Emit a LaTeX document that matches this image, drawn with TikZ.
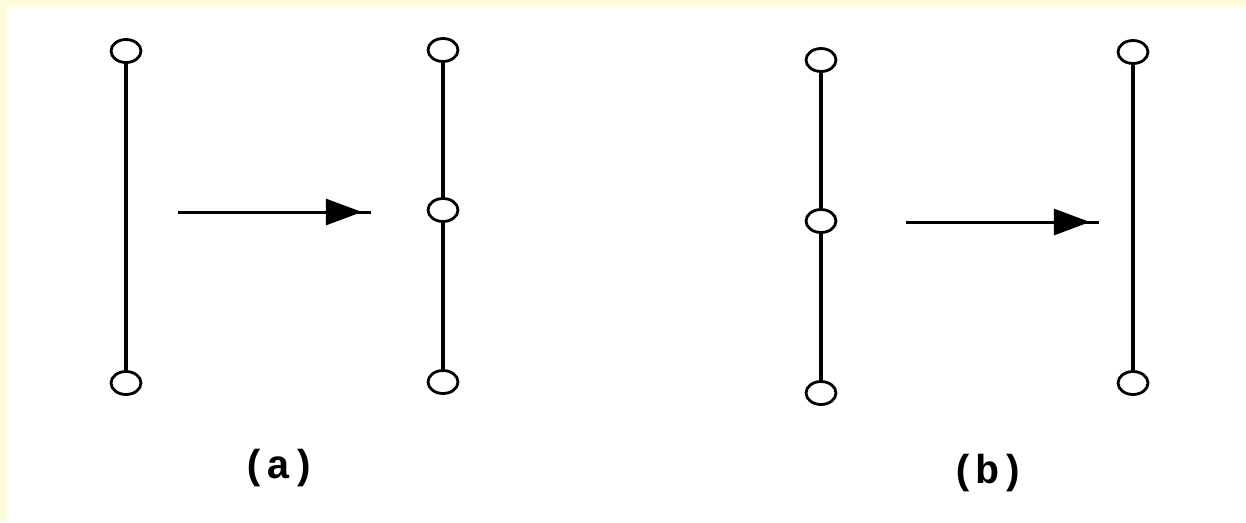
\documentclass[tikz,border=0pt]{standalone}
\usepackage{fontspec}
\newfontfamily\labelfont{Liberation Mono}
\usepackage{tikz}
\usetikzlibrary{arrows.meta}
\usetikzlibrary{shapes.geometric}
\usetikzlibrary{decorations.markings}
\definecolor{cream}{RGB}{255,252,222}

\begin{document}
\begin{tikzpicture}[x=0.02cm,y=-0.02cm,
    vtx/.style={ellipse,draw,line width=1.6pt,fill=white,inner sep=0pt,
      minimum width=0.6cm,minimum height=0.46cm},
    bar/.style={line width=1.9pt},
    harrow/.style={line width=1.7pt,postaction={decorate},
      decoration={markings,mark=at position #1 with
        {\arrow{Triangle[length=0.72cm,width=0.52cm]}}}},
    lbl/.style={font=\labelfont\bfseries\fontsize{23}{27}\selectfont}]

        %------------------
        % 背景
        %------------------
        \fill[cream] (0,0) rectangle (1246,522);
        \fill[white] (7,7) rectangle (1246,522);
        \useasboundingbox (0,0) rectangle (1246,522);

        %------------------
        % (a)
        %------------------
        \node[vtx] (a1t) at (126,51) {};
        \node[vtx] (a1b) at (126,383) {};
        \draw[bar] (a1t) -- (a1b);

        \node[vtx] (a2t) at (443,50) {};
        \node[vtx] (a2m) at (443,210) {};
        \node[vtx] (a2b) at (443,382) {};
        \draw[bar] (a2t) -- (a2m);
        \draw[bar] (a2m) -- (a2b);

        \coordinate (aL) at (178,212);
        \coordinate (aR) at (371,212);
        \draw[harrow=0.953] (aL) -- (aR);

        \node[lbl] (la) at (279,468) {(a)};

        %------------------
        % (b)
        %------------------
        \node[vtx] (b1t) at (821,60) {};
        \node[vtx] (b1m) at (821,221) {};
        \node[vtx] (b1b) at (821,393) {};
        \draw[bar] (b1t) -- (b1m);
        \draw[bar] (b1m) -- (b1b);

        \node[vtx] (b2t) at (1133,52) {};
        \node[vtx] (b2b) at (1133,383) {};
        \draw[bar] (b2t) -- (b2b);

        \coordinate (bL) at (906,222);
        \coordinate (bR) at (1099,222);
        \draw[harrow=0.953] (bL) -- (bR);

        \node[lbl] (lb) at (988,473) {(b)};
      \end{tikzpicture}
\end{document}
